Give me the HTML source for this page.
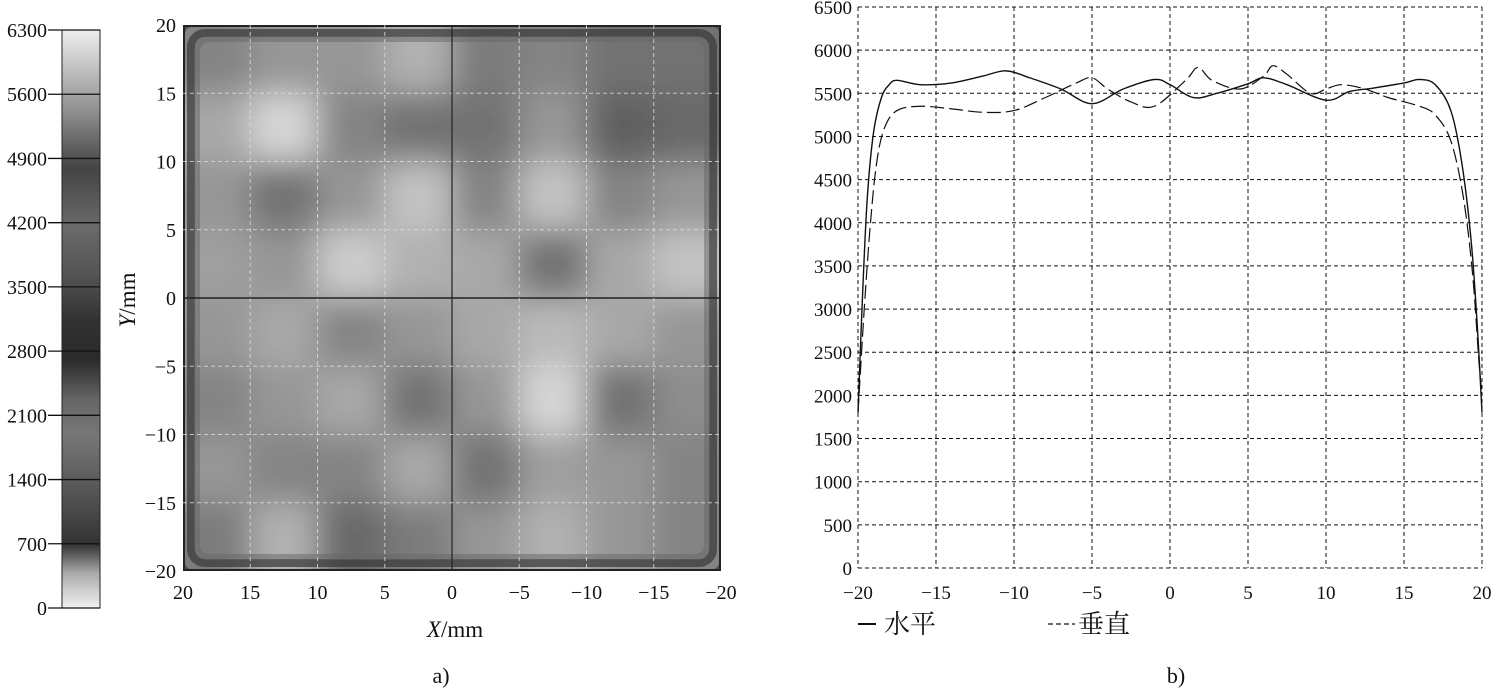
<!DOCTYPE html>
<html><head><meta charset="utf-8"><style>
html,body{margin:0;padding:0;background:#fff;width:1497px;height:692px;overflow:hidden}
svg{display:block}
text{font-family:"Liberation Serif","Noto Serif CJK SC",serif;fill:#111}
</style></head><body>
<svg id="s" width="1497" height="692" viewBox="0 0 1497 692">
<defs>
<linearGradient id="cb" x1="0" y1="1" x2="0" y2="0">
<stop offset="0" stop-color="#f2f2f2"/><stop offset="0.06" stop-color="#aaa"/><stop offset="0.11" stop-color="#333"/>
<stop offset="0.2" stop-color="#555"/><stop offset="0.3" stop-color="#777"/><stop offset="0.36" stop-color="#666"/>
<stop offset="0.43" stop-color="#2a2a2a"/><stop offset="0.5" stop-color="#333"/><stop offset="0.58" stop-color="#555"/>
<stop offset="0.66" stop-color="#6a6a6a"/><stop offset="0.76" stop-color="#444"/><stop offset="0.85" stop-color="#888"/>
<stop offset="0.9" stop-color="#aaa"/><stop offset="1" stop-color="#eee"/>
</linearGradient>
<filter id="bl" x="-10%" y="-10%" width="120%" height="120%"><feGaussianBlur stdDeviation="16"/></filter>
<clipPath id="hc"><rect x="183" y="25" width="538" height="546" rx="14"/></clipPath>
</defs>
<g id="left"></g>
<g id="right"></g>
<text x="441" y="683" font-size="22" text-anchor="middle">a)</text>
<text x="1176" y="683" font-size="22" text-anchor="middle">b)</text>
</svg>
<script>
const NS='http://www.w3.org/2000/svg';
function mk(p,t,a){const e=document.createElementNS(NS,t);for(const k in a)e.setAttribute(k,a[k]);p.appendChild(e);return e;}
// ---- colorbar ----
const cbTicks=[0,700,1400,2100,2800,3500,4200,4900,5600,6300];
// ---- heatmap data (gray brightness per 5mm cell, rows from Y=20 down, cols from X=20 to -20) ----
const heatRows=[
[140,150,150,165,135,140,130,130],
[160,185,140,130,130,150,120,125],
[150,130,150,175,140,175,140,150],
[155,150,180,165,160,130,160,175],
[150,160,140,150,160,170,160,150],
[140,150,160,130,150,185,130,145],
[150,140,140,160,130,155,150,140],
[135,165,125,135,150,165,150,140]];
const axTicks=[20,15,10,5,0,-5,-10,-15,-20];
// ---- profile data ----
const hX=[-20,-19.7,-19.4,-19,-18.5,-18,-17.5,-16,-14,-12,-10.5,-9,-7,-5,-3,-1,0,1.5,3,5,6,7.5,10,11.5,13,15,16,17,18,18.7,19.3,19.7,20];
const hY=[1800,3200,4300,5050,5450,5600,5650,5600,5620,5700,5760,5680,5550,5380,5550,5660,5600,5450,5500,5610,5680,5600,5420,5520,5560,5620,5660,5600,5300,4700,3800,2800,1800];
const vX=[-20,-19.6,-19.2,-18.8,-18.3,-17.5,-16,-14,-12,-10,-8,-6,-5,-4,-2.5,-1,1,1.8,2.7,4.5,6,6.6,7.5,9,10,11,12.5,14,16,17,18,18.8,19.4,19.8,20];
const vY=[1800,3000,4000,4700,5100,5300,5350,5320,5280,5300,5450,5620,5680,5550,5400,5350,5650,5800,5650,5550,5700,5820,5720,5500,5550,5600,5550,5450,5350,5250,4950,4300,3400,2400,2000];
const yTicks=[0,500,1000,1500,2000,2500,3000,3500,4000,4500,5000,5500,6000,6500];
const xTicks=[-20,-15,-10,-5,0,5,10,15,20];

const L=document.getElementById('left');
const cbT=30,cbB=608;
const cbY=v=>cbB-(v/6300)*(cbB-cbT);
const cbr=mk(L,'rect',{x:62,y:cbT,width:38,height:cbB-cbT,fill:'url(#cb)',stroke:'#222','stroke-width':1});


cbTicks.forEach(v=>{
 mk(L,'line',{x1:48,x2:100,y1:cbY(v),y2:cbY(v),stroke:'#111','stroke-width':1.3});
 const t=mk(L,'text',{x:47,y:cbY(v)+7,'font-size':20,'text-anchor':'end'});t.textContent=v;
 
 
});
const hx0=183,hx1=721,hy0=25,hy1=571;
const hxs=v=>hx0+(20-v)/40*(hx1-hx0);
const hys=v=>hy0+(20-v)/40*(hy1-hy0);
mk(L,'rect',{x:hx0,y:hy0,width:hx1-hx0,height:hy1-hy0,fill:'#555'});
const hg=mk(L,'g',{'clip-path':'url(#hc)'});
const hgi=mk(hg,'g',{filter:'url(#bl)'});
const cw=(hx1-hx0)/8,ch=(hy1-hy0)/8;
heatRows.forEach((row,r)=>row.forEach((g0,c)=>{
 const g=Math.round(Math.max(60,Math.min(235,150+(g0-150)*1.8)));
 const e=mk(hgi,'rect',{x:hx0+c*cw-(c==0?30:0),y:hy0+r*ch-(r==0?30:0),width:cw+1+(c==0||c==7?30:0),height:ch+1+(r==0||r==7?30:0),fill:`rgb(${g},${g},${g})`});
 
 
}));
mk(L,'rect',{x:hx0+8,y:hy0+8,width:hx1-hx0-16,height:hy1-hy0-16,rx:14,fill:'none',stroke:'#3c3c3c','stroke-width':8,opacity:0.75});
mk(L,'rect',{x:hx0+14,y:hy0+14,width:hx1-hx0-28,height:hy1-hy0-28,rx:12,fill:'none',stroke:'#666','stroke-width':6,opacity:0.5});
mk(L,'rect',{x:hx0+1,y:hy0+1,width:hx1-hx0-2,height:hy1-hy0-2,fill:'none',stroke:'#222','stroke-width':2});
axTicks.forEach(v=>{
 if(v!==20&&v!==-20){
  if(v===0){
   mk(L,'line',{x1:hxs(0),x2:hxs(0),y1:hy0,y2:hy1,stroke:'#222','stroke-width':1.2});
   mk(L,'line',{x1:hx0,x2:hx1,y1:hys(0),y2:hys(0),stroke:'#222','stroke-width':1.5});
  }else{
   mk(L,'line',{x1:hxs(v),x2:hxs(v),y1:hy0,y2:hy1,stroke:'#ddd','stroke-width':1,'stroke-dasharray':'4 3',opacity:0.8});
   mk(L,'line',{x1:hx0,x2:hx1,y1:hys(v),y2:hys(v),stroke:'#ddd','stroke-width':1,'stroke-dasharray':'4 3',opacity:0.8});
  }
 }
 const lab=v<0?'\u2212'+(-v):''+v;
 const ty=mk(L,'text',{x:176,y:hys(v)+7,'font-size':20,'text-anchor':'end'});ty.textContent=lab;
 
 
 const tx=mk(L,'text',{x:hxs(v),y:599,'font-size':20,'text-anchor':'middle'});tx.textContent=lab;
 
 
});
const xl=mk(L,'text',{x:455,y:637,'font-size':23,'text-anchor':'middle'});xl.innerHTML='<tspan font-style="italic">X</tspan>/mm';


const yl=mk(L,'text',{x:0,y:0,'font-size':23,'text-anchor':'middle',transform:'translate(135,300) rotate(-90)'});yl.innerHTML='<tspan font-style="italic">Y</tspan>/mm';



const R=document.getElementById('right');
const px0=858,px1=1482,py0=7,py1=568;
const xs=v=>px0+(v+20)/40*(px1-px0);
const ys=v=>py1-v/6500*(py1-py0);
xTicks.forEach(v=>{
 mk(R,'line',{x1:xs(v),x2:xs(v),y1:py0,y2:py1,stroke:'#111','stroke-width':1,'stroke-dasharray':'4 3'});
 const t=mk(R,'text',{x:xs(v),y:599,'font-size':19,'text-anchor':'middle'});t.textContent=v<0?'\u2212'+(-v):v;
 
 
});
yTicks.forEach(v=>{
 mk(R,'line',{x1:px0,x2:px1,y1:ys(v),y2:ys(v),stroke:'#111','stroke-width':1,'stroke-dasharray':'4 3'});
 const t=mk(R,'text',{x:852,y:ys(v)+7,'font-size':19,'text-anchor':'end'});t.textContent=v;
 
 
});
function path(X,Y){
 const p=X.map((x,i)=>[xs(x),ys(Y[i])]);
 let d='M'+p[0][0]+','+p[0][1];
 for(let i=0;i<p.length-1;i++){
  const a=p[i-1]||p[i],b=p[i],c=p[i+1],e=p[i+2]||c;
  const c1=[b[0]+(c[0]-a[0])/6,b[1]+(c[1]-a[1])/6],c2=[c[0]-(e[0]-b[0])/6,c[1]-(e[1]-b[1])/6];
  d+=`C${c1[0]},${c1[1]} ${c2[0]},${c2[1]} ${c[0]},${c[1]}`;
 }
 return d;
}
const lh=mk(R,'path',{d:path(hX,hY),fill:'none',stroke:'#111','stroke-width':1.4});


const lv=mk(R,'path',{d:path(vX,vY),fill:'none',stroke:'#111','stroke-width':1.2,'stroke-dasharray':'14 5'});


const lg=mk(R,'g',{});


mk(lg,'line',{x1:858,x2:876,y1:624,y2:624,stroke:'#111','stroke-width':2});
const t1=mk(lg,'text',{x:884,y:633,'font-size':26});t1.textContent='水平';


mk(lg,'line',{x1:1048,x2:1075,y1:624,y2:624,stroke:'#111','stroke-width':1.3,'stroke-dasharray':'5 3'});
const t2=mk(lg,'text',{x:1078,y:633,'font-size':26});t2.textContent='垂直';


</script>
</body></html>
